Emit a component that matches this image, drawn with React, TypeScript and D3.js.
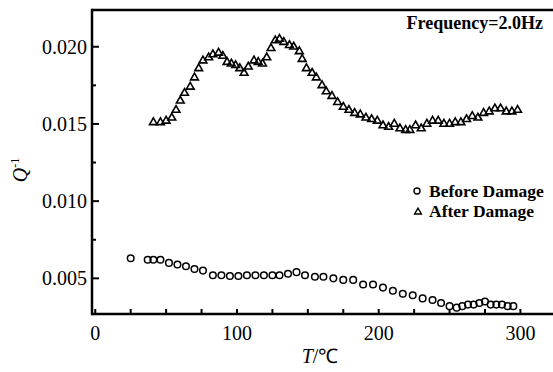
import React from "react";
import * as d3 from "d3";

// Before Damage (circles)
const beforeT = [25, 37, 41, 46, 52, 58, 64, 70, 76, 83, 89, 95, 101, 107, 113, 119, 125, 130, 136, 142, 148, 155, 161, 168, 175, 182, 189, 196, 203, 210, 217, 224, 231, 238, 244, 250, 255, 259, 263, 267, 271, 275, 279, 283, 287, 291, 295];
const beforeQ = [0.0063, 0.0062, 0.0062, 0.0062, 0.006, 0.0059, 0.00578, 0.0056, 0.0055, 0.0052, 0.0052, 0.00515, 0.00515, 0.0052, 0.0052, 0.0052, 0.0052, 0.0052, 0.0053, 0.0054, 0.0052, 0.0051, 0.0051, 0.005, 0.0049, 0.0049, 0.0046, 0.0046, 0.0044, 0.0042, 0.004, 0.0039, 0.0037, 0.0036, 0.0034, 0.0032, 0.0031, 0.0032, 0.0033, 0.0033, 0.0034, 0.0035, 0.0033, 0.0033, 0.0033, 0.0032, 0.0032];

// After Damage (triangles)
const afterT = [41, 46, 50, 54, 57, 60, 63, 67, 70, 73, 76, 80, 83, 87, 90, 93, 96, 99, 102, 105, 108, 112, 115, 118, 121, 124, 127, 130, 133, 137, 140, 144, 146, 149, 153, 156, 160, 163, 167, 171, 175, 179, 183, 187, 191, 195, 199, 203, 207, 211, 215, 219, 222, 226, 230, 234, 238, 242, 246, 250, 254, 258, 262, 266, 270, 274, 278, 282, 286, 290, 294, 298];
const afterQ = [0.0151, 0.0151, 0.0152, 0.0154, 0.0159, 0.0165, 0.017, 0.0174, 0.018, 0.0186, 0.0191, 0.0193, 0.0195, 0.0196, 0.0194, 0.019, 0.0189, 0.0188, 0.0186, 0.0183, 0.0187, 0.0191, 0.019, 0.0189, 0.0193, 0.0199, 0.0204, 0.0205, 0.0203, 0.0201, 0.02, 0.0197, 0.0192, 0.0186, 0.0183, 0.018, 0.0175, 0.0171, 0.0168, 0.0164, 0.0161, 0.0159, 0.0157, 0.0156, 0.0154, 0.0153, 0.0152, 0.0149, 0.0148, 0.015, 0.0147, 0.0146, 0.0146, 0.0149, 0.0147, 0.015, 0.0152, 0.0152, 0.015, 0.015, 0.0151, 0.0151, 0.0153, 0.0155, 0.0154, 0.0157, 0.0158, 0.016, 0.016, 0.0158, 0.0158, 0.0159];

const xTickLabels = [0, 100, 200, 300];
const xMinorTicks = d3.range(0, 326, 25);
const yTickLabels = [0.005, 0.01, 0.015, 0.02];
const yMinorTicks = [0.0075, 0.0125, 0.0175];

const W = 553, H = 372;
const left = 92, right = 555, top = 10, bottom = 314;

const font = "'Liberation Serif', 'Times New Roman', serif";

const App = () => {
  const x = d3.scaleLinear().domain([-2.3, 324.4]).range([left, right]);
  const y = d3.scaleLinear().domain([0.00269, 0.02238]).range([bottom, top]);
  const tri = d3.symbol(d3.symbolTriangle, 26)()!;
  const triLegend = d3.symbol(d3.symbolTriangle, 20)()!;

  return (
    <svg width={W} height={H} style={{ position: "absolute", left: 0, top: 0, background: "#fff" }}>
      {/* circles */}
      {beforeT.map((t, i) => (
        <circle key={"b" + i} cx={x(t)} cy={y(beforeQ[i])} r={3.3} fill="none" stroke="#000" strokeWidth={1.5} />
      ))}
      {/* triangles */}
      {afterT.map((t, i) => (
        <path key={"a" + i} d={tri} transform={`translate(${x(t)},${y(afterQ[i])})`} fill="none" stroke="#000" strokeWidth={1.6} />
      ))}

      {/* frame */}
      <line x1={left} x2={W} y1={top} y2={top} stroke="#000" strokeWidth={2.5} />
      <line x1={left} x2={left} y1={top - 1.25} y2={bottom + 1.25} stroke="#000" strokeWidth={2.5} />
      <line x1={left} x2={W} y1={bottom} y2={bottom} stroke="#000" strokeWidth={2.5} />

      {/* x ticks */}
      {xMinorTicks.map(t => (
        <line key={"xt" + t} x1={x(t)} x2={x(t)} y1={bottom} y2={bottom - 5} stroke="#000" strokeWidth={2} />
      ))}
      {xTickLabels.map(t => (
        <text key={"xl" + t} x={x(t)} y={340} textAnchor="middle" fontFamily={font} fontSize={20}>{t}</text>
      ))}

      {/* y ticks */}
      {yTickLabels.map(v => (
        <line key={"yt" + v} x1={left} x2={left + 7} y1={y(v)} y2={y(v)} stroke="#000" strokeWidth={2} />
      ))}
      {yMinorTicks.map(v => (
        <line key={"ym" + v} x1={left} x2={left + 4} y1={y(v)} y2={y(v)} stroke="#000" strokeWidth={2} />
      ))}
      {yTickLabels.map(v => (
        <text key={"yl" + v} x={87} y={y(v) + 7} textAnchor="end" fontFamily={font} fontSize={20}>{d3.format(".3f")(v)}</text>
      ))}

      {/* axis titles */}
      <text transform="translate(27,170) rotate(-90)" textAnchor="middle" fontFamily={font} fontSize={20}>
        <tspan fontStyle="italic">Q</tspan>
        <tspan fontSize={12} dy={-8}>-1</tspan>
      </text>
      <text x={320} y={363} textAnchor="middle" fontFamily={font} fontSize={20}>
        <tspan fontStyle="italic">T</tspan>
        <tspan>/℃</tspan>
      </text>

      {/* annotation */}
      <text x={543} y={29} textAnchor="end" fontFamily={font} fontSize={18} fontWeight="bold">Frequency=2.0Hz</text>

      {/* legend */}
      <circle cx={417} cy={191} r={3} fill="none" stroke="#000" strokeWidth={1.4} />
      <text x={429} y={197} fontFamily={font} fontSize={17.5} fontWeight="bold">Before Damage</text>
      <path d={triLegend} transform="translate(418,212)" fill="none" stroke="#000" strokeWidth={1.4} />
      <text x={429} y={217} fontFamily={font} fontSize={17.5} fontWeight="bold">After Damage</text>
    </svg>
  );
};

export default App;
